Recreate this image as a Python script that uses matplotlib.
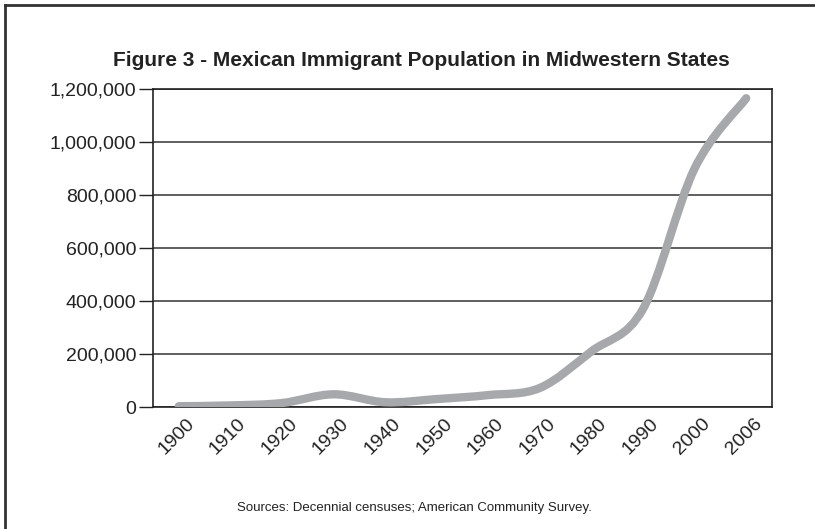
import numpy as np
import matplotlib
matplotlib.use("Agg")
import matplotlib.pyplot as plt
import matplotlib.transforms as mtransforms
from matplotlib.path import Path
from matplotlib.patches import PathPatch
from matplotlib.lines import Line2D
from matplotlib.ticker import FuncFormatter

plt.rcParams['font.family'] = ['Liberation Sans Narrow', 'Liberation Sans', 'DejaVu Sans']

# data
years = ['1900', '1910', '1920', '1930', '1940', '1950', '1960', '1970',
         '1980', '1990', '2000', '2006']
population = [3000, 6000, 15000, 48000, 18000, 30000, 45000, 72000,
              210000, 370000, 900000, 1165000]
y_ticks = [0, 200000, 400000, 600000, 800000, 1000000, 1200000]

title = 'Figure 3 - Mexican Immigrant Population in Midwestern States'
source = 'Sources: Decennial censuses; American Community Survey.'
line_color = '#a7a8ab'

fig = plt.figure(figsize=(8.15, 5.29), dpi=100)
ax = fig.add_axes([0.1877, 0.2306, 0.9472 - 0.1877, 0.8318 - 0.2306])

# smoothed line (bezier through the points, like a spreadsheet "smoothed line")
x = np.arange(len(years), dtype=float)
y = np.array(population, dtype=float)
pts = np.column_stack([x, y])
verts = [pts[0]]
codes = [Path.MOVETO]
n = len(pts)
for i in range(n - 1):
    p0 = pts[i - 1] if i > 0 else pts[i]
    p1 = pts[i]
    p2 = pts[i + 1]
    p3 = pts[i + 2] if i + 2 < n else pts[i + 1]
    c1 = p1 + (p2 - p0) / 6.0
    c2 = p2 - (p3 - p1) / 6.0
    verts += [c1, c2, p2]
    codes += [Path.CURVE4] * 3
patch = PathPatch(Path(verts, codes), facecolor='none', edgecolor=line_color,
                  lw=6, capstyle='round', joinstyle='round', zorder=3)
ax.add_patch(patch)

ax.set_xlim(-0.5, len(years) - 0.5)
ax.set_ylim(0, 1200000)
ax.set_yticks(y_ticks)
ax.yaxis.set_major_formatter(FuncFormatter(lambda v, p: f'{int(v):,}'))
ax.grid(axis='y', color='#333333', lw=1.1, zorder=1)
ax.set_axisbelow(True)

ax.set_xticks(x)
ax.set_xticklabels(years, rotation=45, ha='right', rotation_mode='anchor')
ax.tick_params(axis='x', length=0, pad=6, labelsize=14, colors='#222222')
ax.tick_params(axis='y', length=10, width=1, pad=2, labelsize=14,
               colors='#222222')
shift = mtransforms.ScaledTranslation(5 / 72, 0, fig.dpi_scale_trans)
for lbl in ax.get_xticklabels():
    lbl.set_transform(lbl.get_transform() + shift)
for s in ax.spines.values():
    s.set_color('#222222')
    s.set_linewidth(1.2)

fig.text(0.517, 0.886, title, ha='center', va='center', fontsize=15,
         fontweight='bold', color='#222222')
fig.text(0.509, 0.040, source, ha='center', va='center', fontsize=9.5,
         color='#222222')

# outer frame: top and left edges
fig.add_artist(Line2D([5 / 815, 1], [1 - 5 / 529, 1 - 5 / 529],
                      transform=fig.transFigure, color='#333333', lw=2))
fig.add_artist(Line2D([5 / 815, 5 / 815], [0, 1 - 5 / 529],
                      transform=fig.transFigure, color='#333333', lw=2))

fig.savefig('out.png', dpi=100)
